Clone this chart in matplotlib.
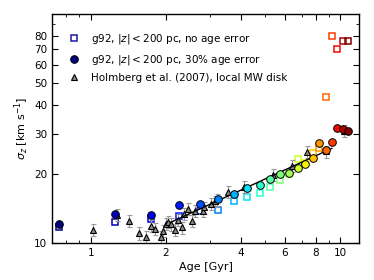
import numpy as np
import matplotlib
matplotlib.use("Agg")
import matplotlib.pyplot as plt
from matplotlib.ticker import FixedLocator, NullFormatter, LogLocator, FixedFormatter

# ---- data ----
age_bins = [0.75, 1.25, 1.75, 2.25, 2.75, 3.25, 3.75, 4.25, 4.75, 5.25, 5.75,
            6.25, 6.75, 7.25, 7.75, 8.25, 8.75, 9.25, 9.75, 10.25, 10.75]
sig_noerr = [11.7, 12.35, 12.7, 13.15, 13.8, 13.95, 15.25, 15.9, 16.5, 17.6, 18.85,
             20.0, 23.2, 22.3, 24.8, 25.9, 43.5, 80.4, 70.1, 76.4, 76.4]
sig_err30 = [12.05, 13.4, 13.2, 14.65, 14.75, 15.5, 16.35, 17.4, 17.85, 19.0, 20.0,
             20.15, 21.35, 22.2, 23.6, 27.25, 25.5, 27.75, 31.9, 31.45, 30.9]

holm_age = [1.02, 1.28, 1.43, 1.56, 1.67, 1.75, 1.81, 1.92, 1.95, 2.0, 2.04, 2.09,
            2.18, 2.24, 2.32, 2.37, 2.46, 2.55, 2.63, 2.83, 2.85, 3.05, 3.15, 3.22,
            3.56, 4.12, 5.36, 6.42, 7.37, 8.75, 10.4]
holm_sig = [11.45, 13.3, 12.5, 11.05, 10.6, 11.9, 11.5, 10.6, 11.3, 12.15, 12.4, 12.05,
            11.4, 12.6, 11.7, 13.45, 14.15, 12.5, 13.8, 13.85, 14.3, 14.8, 15.2, 15.5,
            16.7, 17.65, 19.9, 21.7, 25.0, 25.1, 30.8]
holm_err = [0.7, 0.8, 0.75, 0.7, 0.65, 0.7, 0.7, 0.65, 0.7, 0.75, 0.75, 0.75,
            0.7, 0.75, 0.7, 0.8, 0.85, 0.75, 0.85, 0.85, 0.85, 0.9, 0.9, 0.95,
            1.0, 1.05, 1.2, 1.3, 1.5, 1.5, 1.8]

fit_age = [2.09, 9.26]
fit_slope = 0.5
fit_norm = 16.7   # sigma at 3.85 Gyr
fit_ref_age = 3.85

xticks = [1, 2, 4, 6, 8, 10]
yticks = [10, 20, 30, 40, 50, 60, 70, 80]

# ---- plot ----
fig = plt.figure(figsize=(3.74, 2.8), dpi=100)
ax = fig.add_axes([0.139, 0.132, 0.821, 0.818])
ax.set_xscale('log')
ax.set_yscale('log')

cmap = plt.get_cmap('jet')
n = len(age_bins)
colors = [cmap(i / (n - 1)) for i in range(n)]

for a, s, c in zip(age_bins, sig_noerr, colors):
    ax.plot(a, s, 's', ms=5, mfc='none', mec=c, mew=1.1, zorder=3)

ax.errorbar(holm_age, holm_sig, yerr=holm_err, fmt='none', ecolor='#999999',
            elinewidth=0.8, capsize=1.8, capthick=0.8, zorder=4)
ax.plot(holm_age, holm_sig, '^', ms=4, mfc='#888888', mec='black', mew=0.8,
        ls='none', zorder=5)

t = np.geomspace(fit_age[0], fit_age[1], 50)
ax.plot(t, fit_norm * (t / fit_ref_age) ** fit_slope, '-', color='black', lw=1.0, zorder=6)

for a, s, c in zip(age_bins, sig_err30, colors):
    ax.plot(a, s, 'o', ms=5.5, mfc=c, mec='black', mew=0.7, zorder=7)

# legend handles
h1, = ax.plot([], [], 's', ms=5, mfc='none', mec='#1a1aa0', mew=1.1)
h2, = ax.plot([], [], 'o', ms=5.5, mfc='#000080', mec='black', mew=0.7)
h3, = ax.plot([], [], '^', ms=4, mfc='#888888', mec='black', mew=0.8)
ax.legend([h1, h2, h3],
          [r'g92, $|z| < 200$ pc, no age error',
           r'g92, $|z| < 200$ pc, 30% age error',
           'Holmberg et al. (2007), local MW disk'],
          loc='upper left', frameon=False, fontsize=7.5, handletextpad=0.6,
          borderaxespad=0.6, labelspacing=0.6, bbox_to_anchor=(0.005, 0.965))

ax.set_xlim(0.7, 11.9)
ax.set_ylim(10, 100)
ax.xaxis.set_major_locator(FixedLocator(xticks))
ax.xaxis.set_major_formatter(FixedFormatter([str(v) for v in xticks]))
ax.xaxis.set_minor_locator(LogLocator(base=10, subs=np.arange(2, 10)))
ax.xaxis.set_minor_formatter(NullFormatter())
ax.yaxis.set_major_locator(FixedLocator(yticks))
ax.yaxis.set_major_formatter(FixedFormatter([str(v) for v in yticks]))
ax.yaxis.set_minor_locator(FixedLocator([90]))
ax.yaxis.set_minor_formatter(NullFormatter())
ax.tick_params(which='both', direction='in', top=True, right=True, labelsize=7.5)
ax.tick_params(which='major', length=4, width=0.8)
ax.tick_params(which='minor', length=2, width=0.6)
for sp in ax.spines.values():
    sp.set_linewidth(1.0)

ax.set_xlabel('Age [Gyr]', fontsize=8, labelpad=3)
ax.set_ylabel(r'$\sigma_z$ [km s$^{-1}$]', fontsize=8, labelpad=2)

fig.savefig('out.png', dpi=100)
